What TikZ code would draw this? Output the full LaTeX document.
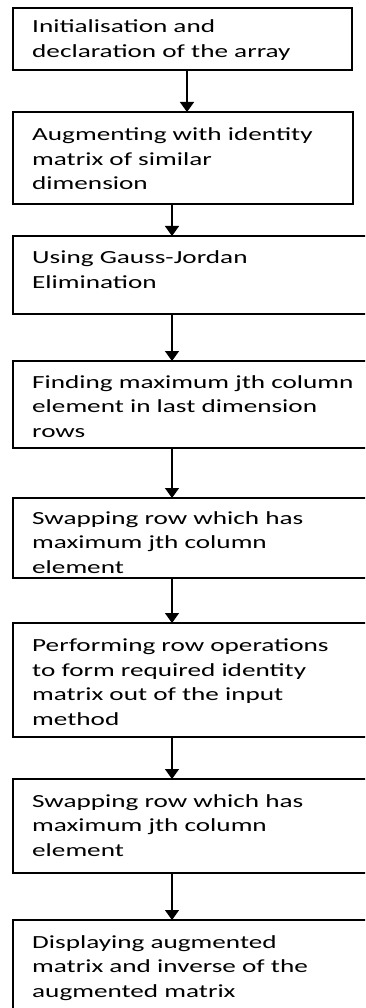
\documentclass[tikz,border=0pt]{standalone}
\usepackage{fontspec}
\setmainfont{Carlito}[FakeStretch=1.47]
\usetikzlibrary{arrows.meta}
\begin{document}
\begin{tikzpicture}[x=1pt,y=-1pt,
  box/.style={draw, line width=1.5pt, rectangle, inner sep=0pt, outer sep=0pt, anchor=north west, minimum width=#1},
  box/.default=359pt,
  txt/.style={anchor=base west, inner sep=0pt, align=left, font=\fontsize{18.5}{24.5}\selectfont},
  arr/.style={line width=1.5pt, -{Triangle[width=14pt,length=10pt]}}]
\useasboundingbox (0,0) rectangle (365,1008);
\clip (0,0) rectangle (365,1008);
\coordinate (a1) at (187,0);
\coordinate (a2) at (172,0);
% boxes
\node[box=339pt, minimum height=62pt] (b1) at (13,8) {};
\node[box=340pt, minimum height=92pt] (b2) at (13,112) {};
\node[box, minimum height=78pt] (b3) at (13,236) {};
\node[box, minimum height=87pt] (b4) at (13,361) {};
\node[box, minimum height=80pt] (b5) at (13,498) {};
\node[box, minimum height=114pt] (b6) at (13,623) {};
\node[box, minimum height=94pt] (b7) at (13,779) {};
\node[box, minimum height=110pt] (b8) at (13,920) {};
% texts (anchored at the baseline of their last line)
\node[txt] (t1) at (32,57.5) {Initialisation and\\declaration of the array};
\node[txt] (t2) at (32,190) {Augmenting with identity\\matrix of similar\\dimension};
\node[txt] (t3) at (32,288) {Using Gauss-Jordan\\Elimination};
\node[txt] (t4) at (32,437) {Finding maximum jth column\\element in last dimension\\rows};
\node[txt] (t5) at (32,573) {Swapping row which has\\maximum jth column\\element};
\node[txt] (t6) at (32,725) {Performing row operations\\to form required identity\\matrix out of the input\\method};
\node[txt] (t7) at (32,856) {Swapping row which has\\maximum jth column\\element};
\node[txt] (t8) at (32,997) {Displaying augmented\\matrix and inverse of the\\augmented matrix};
% connectors
\draw[arr] (b1.south -| a1) -- (b2.north -| a1);
\draw[arr] (b2.south -| a2) -- (b3.north -| a2);
\draw[arr] (b3.south -| a2) -- (b4.north -| a2);
\draw[arr] (b4.south -| a2) -- (b5.north -| a2);
\draw[arr] (b5.south -| a2) -- (b6.north -| a2);
\draw[arr] (b6.south -| a2) -- (b7.north -| a2);
\draw[arr] (b7.south -| a2) -- (b8.north -| a2);
\end{tikzpicture}
\end{document}
